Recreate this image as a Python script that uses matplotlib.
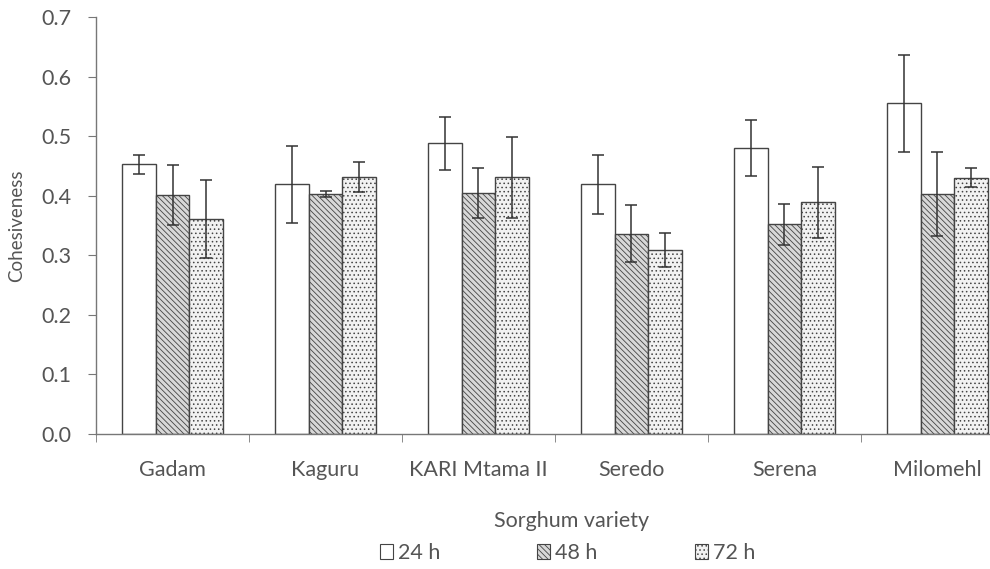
import matplotlib
matplotlib.use("Agg")
import matplotlib.pyplot as plt
from matplotlib.patches import Patch
import numpy as np

varieties = ["Gadam", "Kaguru", "KARI Mtama II", "Seredo", "Serena", "Milomehl"]
times = ["24 h", "48 h", "72 h"]
means_24 = [0.453, 0.419, 0.488, 0.419, 0.480, 0.555]
means_48 = [0.401, 0.403, 0.404, 0.336, 0.352, 0.403]
means_72 = [0.361, 0.431, 0.431, 0.309, 0.389, 0.430]
err_24 = [0.016, 0.065, 0.044, 0.050, 0.047, 0.082]
err_48 = [0.050, 0.005, 0.042, 0.048, 0.034, 0.070]
err_72 = [0.066, 0.025, 0.068, 0.029, 0.060, 0.016]

plt.rcParams["font.family"] = ["Lato", "DejaVu Sans"]
plt.rcParams["hatch.linewidth"] = 0.6
plt.rcParams["hatch.color"] = "#555555"

txt = "#555555"
edge = "#444444"

fig = plt.figure(figsize=(9.9, 5.69), dpi=100)
ax = fig.add_axes([96 / 990, 1 - 434 / 569, 918 / 990, 417 / 569])

x = np.arange(len(varieties))
w = 0.222
series = [
    (means_24, err_24, "white", ""),
    (means_48, err_48, "#d8d8d8", "\\\\\\\\\\\\"),
    (means_72, err_72, "#f2f2f2", "...."),
]
for i, (m, e, fc, hatch) in enumerate(series):
    pos = x + (i - 1) * w
    ax.bar(pos, m, width=w, color=fc, edgecolor=edge, linewidth=1.0,
           hatch=hatch, label=times[i], zorder=2)
    ax.errorbar(pos, m, yerr=e, fmt="none", ecolor="#333333",
                elinewidth=1.1, capsize=4, capthick=1.1, zorder=3)

ax.set_xlim(-0.5, len(varieties) - 0.5)
ax.set_ylim(0, 0.7)
ax.set_yticks(np.arange(0, 0.71, 0.1))
ax.set_yticklabels([f"{v:.1f}" for v in np.arange(0, 0.71, 0.1)])
ax.set_xticks(x)
ax.set_xticklabels(varieties)
ax.set_xticks(np.arange(-0.5, len(varieties), 1.0), minor=True)
ax.tick_params(axis="x", which="major", length=0, pad=19, labelsize=15.5, labelcolor=txt)
ax.tick_params(axis="x", which="minor", length=6, direction="out", color="#777777")
ax.tick_params(axis="y", length=6, direction="out", color="#777777",
               labelsize=15.5, labelcolor=txt, pad=12)

for s in ["top", "right"]:
    ax.spines[s].set_visible(False)
for s in ["left", "bottom"]:
    ax.spines[s].set_color("#777777")
    ax.spines[s].set_linewidth(1.0)

ax.set_ylabel("Cohesiveness", color=txt, fontsize=13.5)
ax.yaxis.set_label_coords(-71 / 918, 0.5)
fig.text(572 / 990, 1 - 521 / 569, "Sorghum variety", ha="center", va="center",
         color=txt, fontsize=15.5)

# one legend entry per time point, spread along the bottom
for (_, _, fc, h), label, x0 in zip(series, times, [380, 537, 695]):
    handle = Patch(facecolor=fc, edgecolor=edge, hatch=h, linewidth=0.8)
    fig.legend([handle], [label], loc="center left",
               bbox_to_anchor=(x0 / 990, 1 - 553 / 569),
               frameon=False, handlelength=0.6, handleheight=0.7,
               handletextpad=0.25, borderpad=0, borderaxespad=0,
               fontsize=15.5, labelcolor=txt)

fig.savefig("out.png", dpi=100, facecolor="white")
